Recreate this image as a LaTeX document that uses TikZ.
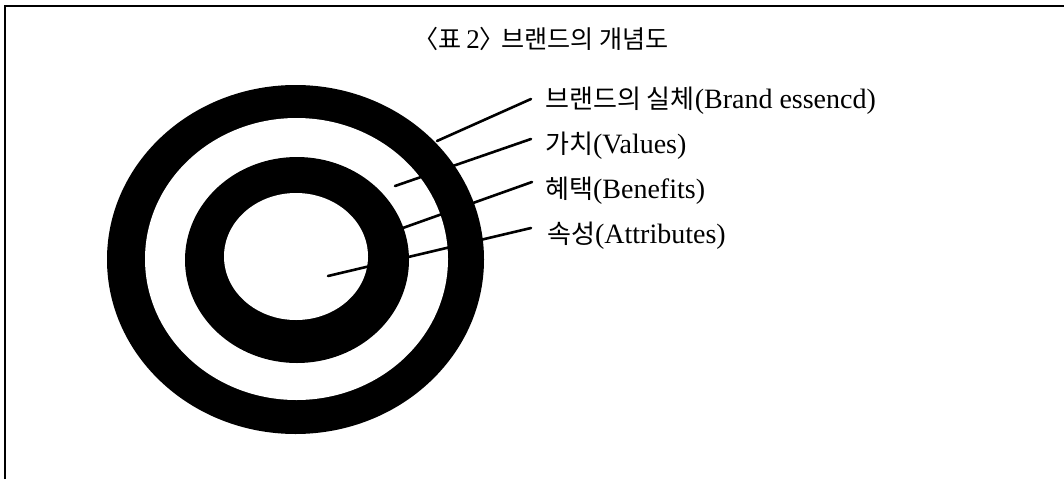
\documentclass[tikz,border=0pt]{standalone}
\usepackage{fontspec}
\setmainfont{Liberation Serif}
\newfontfamily\kr[Scale=0.93]{Noto Sans CJK KR}
\usetikzlibrary{calc}
\begin{document}
\begin{tikzpicture}[x=1pt,y=-1pt,
  leader/.style={line width=2.6pt, line cap=round},
  lbl/.style={anchor=base west, inner sep=0pt, font=\fontsize{28}{30}\selectfont},
  ttl/.style={anchor=base west, inner sep=0pt, font=\fontsize{27}{29}\selectfont},
  frame/.style={line width=1.5pt}]
\useasboundingbox (0,0) rectangle (1064,479);
\fill[white] (0,0) rectangle (1064,479);
\draw[frame] (5,479) -- (5,6) -- (1064,6);
\node[ttl] (title) at (413,48) {{\kr 〈표}\kern5pt 2{\kr 〉}\kern-4pt{\kr 브랜드의 개념도}};
% rings
\fill[black] (295.5,259.5) ellipse [x radius=188.5pt, y radius=174.5pt];
\fill[white] (296.5,259) ellipse [x radius=151.5pt, y radius=141pt];
\fill[black] (297,260) ellipse [x radius=112pt, y radius=103pt];
\fill[white] (296,256.5) ellipse [x radius=72pt, y radius=63.5pt];
% labels
\node[lbl] (l1) at (545,108) {{\kr 브랜드의 실체}(Brand essencd)};
\node[lbl] (l2) at (545,153) {{\kr 가치}(Values)};
\node[lbl] (l3) at (545,198) {{\kr 혜택}(Benefits)};
\node[lbl] (l4) at (547,243) {{\kr 속성}(Attributes)};
% leader end points
\coordinate (e1) at (437,141);
\coordinate (e2) at (395,186);
\coordinate (e3) at (400,229);
\coordinate (e4) at (328,276);
\draw[leader] ($(l1.base west)+(-14,-9)$) -- (e1);
\draw[leader] ($(l2.base west)+(-14,-14)$) -- (e2);
\draw[leader] ($(l3.base west)+(-13,-16)$) -- (e3);
\draw[leader] ($(l4.base west)+(-16,-15)$) -- (e4);
\end{tikzpicture}
\end{document}
